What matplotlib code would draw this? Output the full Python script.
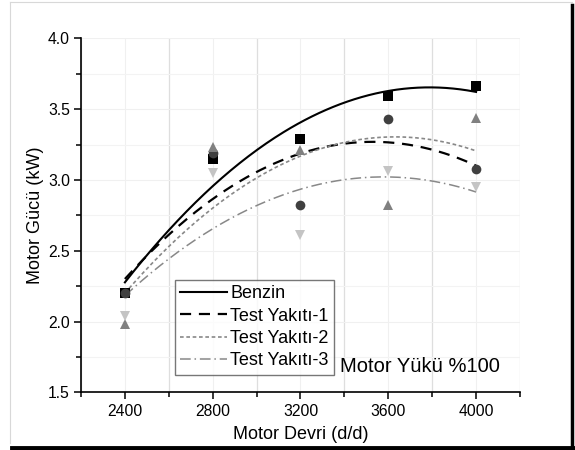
import numpy as np
import matplotlib
matplotlib.use("Agg")
import matplotlib.pyplot as plt
from matplotlib.lines import Line2D
from matplotlib.ticker import MultipleLocator

plt.rcParams['font.family'] = ['Liberation Sans', 'DejaVu Sans']

rpm = [2400, 2800, 3200, 3600, 4000]
benzin = [2.20, 3.15, 3.29, 3.59, 3.66]
test1 = [2.20, 3.19, 2.82, 3.43, 3.08]
test2 = [1.98, 3.23, 3.21, 2.82, 3.44]
test3 = [2.04, 3.05, 2.61, 3.06, 2.95]
labels = ["Benzin", "Test Yakıtı-1", "Test Yakıtı-2", "Test Yakıtı-3"]

series = [benzin, test1, test2, test3]
markers = ['s', 'o', '^', 'v']
mcolors = ['#000000', '#404040', '#808080', '#c4c4c4']
lcolors = ['#000000', '#000000', '#888888', '#888888']
lstyles = ['-', (0, (5, 3.5)), (0, (2.2, 1.6)), (0, (7, 2.5, 1, 2.5))]
lwidths = [1.5, 1.6, 1.2, 1.1]

fig = plt.figure(figsize=(5.75, 4.5), dpi=100)
ax = fig.add_axes([0.1409, 0.1278, 0.7634, 0.7871])

xs = np.linspace(rpm[0], rpm[-1], 200)
handles = []
for ys, lab, lc, ls, lw in zip(series, labels, lcolors, lstyles, lwidths):
    coef = np.polyfit(rpm, ys, 2)
    h, = ax.plot(xs, np.polyval(coef, xs), color=lc, linestyle=ls, lw=lw, label=lab, zorder=3)
    handles.append(h)
for ys, m, mc in zip(series, markers, mcolors):
    ax.plot(rpm, ys, linestyle='none', marker=m, color=mc, markersize=7.5 if m in '^v' else 7,
            markeredgewidth=0, zorder=4)

ax.set_xlim(2200, 4200)
ax.set_ylim(1.5, 4.0)
ax.xaxis.set_major_locator(MultipleLocator(400))
ax.xaxis.set_minor_locator(MultipleLocator(200))
ax.yaxis.set_major_locator(MultipleLocator(0.5))
ax.yaxis.set_minor_locator(MultipleLocator(0.25))
ax.yaxis.set_major_formatter(matplotlib.ticker.FormatStrFormatter('%.1f'))

ax.grid(True, which='major', axis='both', color='#f0f0f0', lw=0.8, zorder=0)
ax.grid(True, which='minor', axis='y', color='#f3f3f3', lw=0.8, zorder=0)
ax.grid(True, which='minor', axis='x', color='#dedede', lw=0.9, zorder=0)
ax.set_axisbelow(True)

for s in ['top', 'right']:
    ax.spines[s].set_visible(False)
for s in ['left', 'bottom']:
    ax.spines[s].set_linewidth(1.2)

ax.tick_params(which='major', direction='out', length=5, width=1.1, labelsize=11.3, pad=3)
ax.tick_params(which='minor', direction='out', length=3.5, width=1.1)

ax.set_xlabel("Motor Devri (d/d)", fontsize=13, labelpad=5)
ax.set_ylabel("Motor Gücü (kW)", fontsize=13, labelpad=3)

leg = ax.legend(handles=handles, loc='lower left', bbox_to_anchor=(0.214, 0.05),
                fontsize=13, frameon=True, fancybox=False, handlelength=2.6,
                handletextpad=0.15, labelspacing=0.3, borderpad=0.3, borderaxespad=0)
leg.get_frame().set_edgecolor('#555555')
leg.get_frame().set_linewidth(1.0)

ax.text(0.59, 0.059, "Motor Yükü %100", transform=ax.transAxes, fontsize=14.5,
        ha='left', va='baseline')

# figure frame (shadow-box look)
fig.add_artist(Line2D([0.017, 0.017], [0.015, 0.995], transform=fig.transFigure, color='#d8d8d8', lw=0.8))
fig.add_artist(Line2D([0.017, 0.995], [0.995, 0.995], transform=fig.transFigure, color='#d8d8d8', lw=0.8))
fig.add_artist(Line2D([0.995, 0.995], [0.0, 0.99], transform=fig.transFigure, color='black', lw=2.5))
fig.add_artist(Line2D([0.02, 1.0], [0.0045, 0.0045], transform=fig.transFigure, color='black', lw=3.5))

fig.savefig("out.png", dpi=100)
